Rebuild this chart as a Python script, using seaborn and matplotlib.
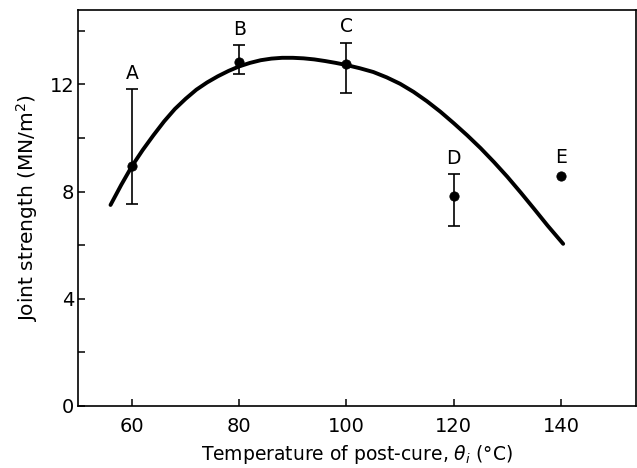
import matplotlib
matplotlib.use("Agg")
import matplotlib.pyplot as plt
import seaborn as sns
import pandas as pd

# Data points (post-cure temperature, joint strength)
labels = ["A", "B", "C", "D", "E"]
temps = [60, 80, 100, 120, 140]
strength = [8.95, 12.85, 12.75, 7.83, 8.57]
err_low = [7.53, 12.38, 11.67, 6.72, None]
err_high = [11.82, 13.47, 13.56, 8.66, None]

# Fitted curve
curve_x = [56.0, 58, 60, 62, 64, 66, 68, 70, 72, 74, 76, 78, 80, 82, 84, 86, 88, 90, 92, 94, 96, 98, 100,
           102.5, 105, 107.5, 110, 112.5, 115, 117.5, 120, 122.5, 125, 127.5, 130, 132.5, 135, 137.5, 140.4]
curve_y = [7.5, 8.25, 8.95, 9.55, 10.1, 10.62, 11.08, 11.46, 11.8, 12.07, 12.3, 12.5, 12.67, 12.8, 12.9, 12.96, 12.99, 12.99, 12.97, 12.93, 12.87, 12.8, 12.72,
           12.6, 12.46, 12.26, 12.02, 11.72, 11.37, 10.98, 10.55, 10.1, 9.62, 9.1, 8.55, 7.96, 7.35, 6.73, 6.05]

yticks = [0, 4, 8, 12]
yminor = [2, 6, 10, 14]
xticks = [60, 80, 100, 120, 140]

sns.set_style("ticks")
plt.rcParams["font.family"] = ["DejaVu Sans"]
plt.rcParams["text.color"] = "black"
plt.rcParams["axes.labelcolor"] = "black"
plt.rcParams["xtick.color"] = "black"
plt.rcParams["ytick.color"] = "black"

fig = plt.figure(figsize=(6.37, 4.68), dpi=100)
ax = fig.add_axes([0.123, 0.1325, 0.876, 0.8465])

curve = pd.DataFrame({"x": curve_x, "y": curve_y})
sns.lineplot(data=curve, x="x", y="y", ax=ax, color="black", lw=2.8, sort=False, estimator=None)

pts = pd.DataFrame({"t": temps, "s": strength, "lab": labels})
sns.scatterplot(data=pts, x="t", y="s", ax=ax, color="black", s=45, edgecolor="black", zorder=5)

for t, s, lo, hi, lab in zip(temps, strength, err_low, err_high, labels):
    if lo is not None:
        ax.errorbar([t], [s], yerr=[[s - lo], [hi - s]], fmt="none", ecolor="black",
                    elinewidth=1.2, capsize=4, capthick=1.2, zorder=4)
        top = hi
        off = 4.5
    else:
        top = s
        off = 6.5
    ax.annotate(lab, xy=(t, top), xytext=(0, off), textcoords="offset points",
                ha="center", va="bottom", fontsize=13.5, color="black")

ax.set_xlim(50, 154.05)
ax.set_ylim(0, 14.78)
ax.set_xticks(xticks)
ax.set_yticks(yticks)
ax.set_yticks(yminor, minor=True)
ax.tick_params(axis="both", which="both", direction="in", length=5, width=1.1, labelsize=14)
ax.tick_params(axis="x", pad=8)
ax.tick_params(axis="y", pad=3)

for sp in ax.spines.values():
    sp.set_visible(True)
    sp.set_linewidth(1.2)
    sp.set_color("black")

ax.set_xlabel(r"Temperature of post-cure, $\theta_i$ (°C)", fontsize=13.5, labelpad=5)
ax.set_ylabel(r"Joint strength (MN/m$^2$)", fontsize=14.5, labelpad=7)

fig.savefig("out.png", dpi=100)
